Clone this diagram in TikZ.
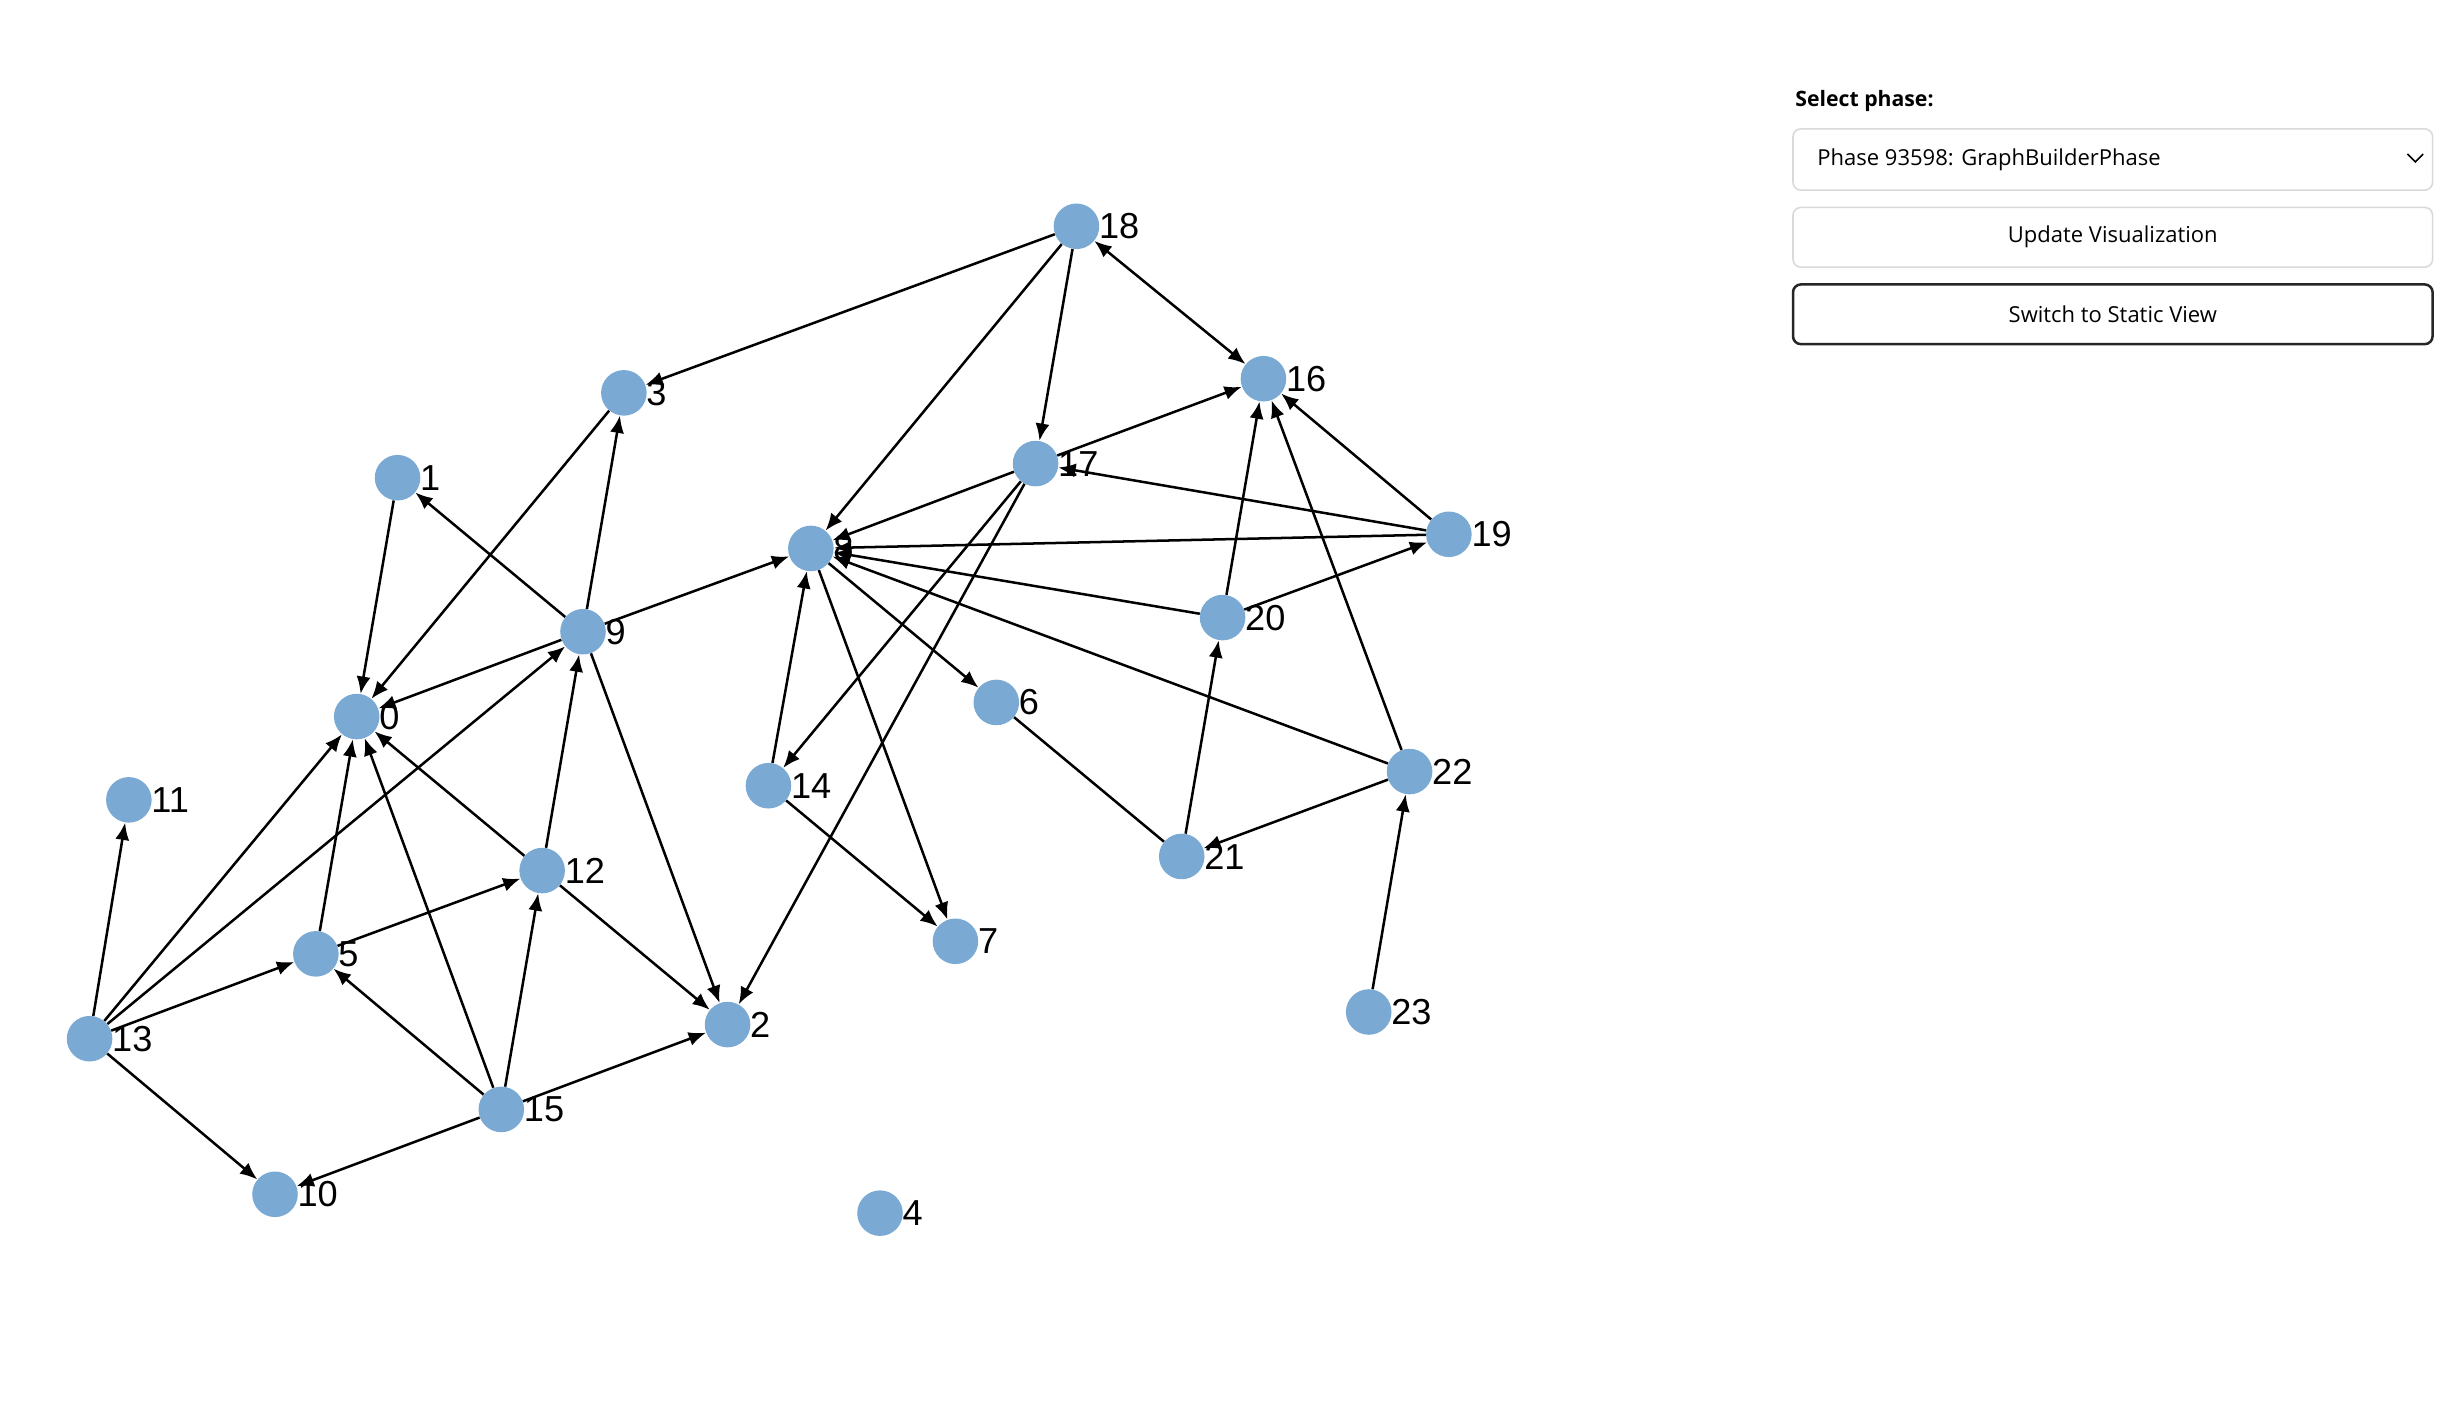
\documentclass[tikz,border=0pt]{standalone}
\usepackage{fontspec}
\setmainfont{Liberation Sans}
\newfontfamily\uifont{Open Sans}
\usetikzlibrary{arrows.meta}
\begin{document}
\begin{tikzpicture}[x=1pt,y=-1pt,
 v/.style={circle,fill=nodeblue,minimum size=29pt,inner sep=0pt,
   label={[font=\fontsize{23}{23}\selectfont,inner sep=0pt,xshift=-0.5pt]right:#1}},
 e/.style={-{Latex[length=11pt,width=9pt]},line width=1.6pt,shorten >=0pt},
 p/.style={line width=1.6pt},
 btn/.style={draw=#1,rounded corners=5pt,line width=1pt}]
\definecolor{nodeblue}{HTML}{7AAAD3}
\useasboundingbox (0,0) rectangle (1568,896);
\fill[white] (0,0) rectangle (1568,896);
% edges drawn first
\coordinate (c0) at (227,456);
\node[v=0] (n0) at (227,456) {};
\node[v=1] (n1) at (253,304) {};
\node[v=2] (n2) at (463,652) {};
\node[v=3] (n3) at (397,250) {};
\node[v=4] (n4) at (560,772) {};
\node[v=5] (n5) at (201,607) {};
\node[v=6] (n6) at (634,447) {};
\node[v=7] (n7) at (608,599) {};
\node[v=8] (n8) at (516,349) {};
\node[v=9] (n9) at (371,402) {};
\node[v=10] (n10) at (175,760) {};
\node[v=11] (n11) at (82,509) {};
\node[v=12] (n12) at (345,554) {};
\node[v=13] (n13) at (57,661) {};
\node[v=14] (n14) at (489,500) {};
\node[v=15] (n15) at (319,706) {};
\node[v=16] (n16) at (804,241) {};
\node[v=17] (n17) at (659,295) {};
\node[v=18] (n18) at (685,144) {};
\node[v=19] (n19) at (922,340) {};
\node[v=20] (n20) at (778,393) {};
\node[v=21] (n21) at (752,545) {};
\node[v=22] (n22) at (897,491) {};
\node[v=23] (n23) at (871,644) {};
\begin{scope}[on background layer/.style={}]
\foreach \a/\b in {18/3,18/8,18/17,17/16,19/17,17/8,17/14,17/2,19/8,20/8,20/19,20/16,19/16,22/16,22/8,22/21,21/20,8/7,8/6,14/8,14/7,9/8,9/3,9/1,9/0,9/2,3/0,1/0,12/0,12/9,12/2,5/0,5/12,15/5,15/0,15/12,15/2,15/10,13/11,13/0,13/9,13/5,13/10,23/22}
  \draw[e] (n\a) -- (n\b);
\draw[e,{Latex[length=11pt,width=9pt]}-{Latex[length=11pt,width=9pt]}] (n18) -- (n16);
\draw[p] (n6) -- (n21);
\end{scope}
% panel
\node[anchor=west,font=\uifont\bfseries\fontsize{13.5}{14}\selectfont] (sel) at (1139,64) {Select phase:};
\draw[btn=black!15] (1141,82) rectangle (1548,121);
\node[anchor=west,font=\uifont\fontsize{14}{15}\selectfont] (ph) at (1153,101.5) {Phase 93598: GraphBuilderPhase};
\draw[line width=1pt] (1532,98) -- (1537,103) -- (1542,98);
\draw[btn=black!15] (1141,132) rectangle (1548,170);
\node[font=\uifont\fontsize{14}{15}\selectfont] (upd) at (1344.5,151) {Update Visualization};
\draw[btn=black!85,line width=1.6pt] (1141,181) rectangle (1548,219);
\node[font=\uifont\fontsize{14}{15}\selectfont] (sw) at (1344.5,200) {Switch to Static View};
\end{tikzpicture}
\end{document}
